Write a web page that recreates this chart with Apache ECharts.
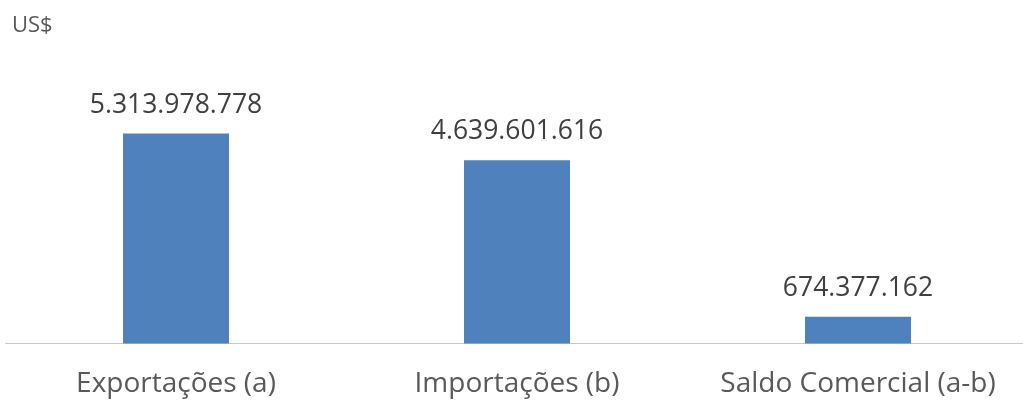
<!DOCTYPE html>
<html>
<head>
    <meta charset="utf-8">
    <title>Balança comercial</title>
    <script src="https://cdn.jsdelivr.net/npm/echarts@6/dist/echarts.min.js"></script>
</head>
<body style="margin:0;overflow:hidden">
<div id="main" style="width: 1034px;height:401px;"></div>
<script type="text/javascript">
    var categories = ['Exportações (a)', 'Importações (b)', 'Saldo Comercial (a-b)'];
    var values = [5313978778, 4639601616, 674377162];

    // 1234567 -> 1.234.567
    function fmt(v) {
        return String(v).replace(/\B(?=(\d{3})+(?!\d))/g, '.');
    }

    var myChart = echarts.init(document.getElementById('main'));
    var option = {
        animation: false,
        textStyle: { fontFamily: 'Open Sans' },
        graphic: [{
            type: 'text', left: 12, top: 15,
            style: { text: 'US$', fontSize: 22, fill: '#595959', fontFamily: 'Open Sans' }
        }],
        grid: { left: 5.5, right: 5.5, top: 106.4, bottom: 57.5 },
        xAxis: {
            type: 'category',
            data: categories,
            axisLine: { lineStyle: { color: '#c8c8c8', width: 1 } },
            axisTick: { show: false },
            axisLabel: { color: '#595959', fontSize: 28, margin: 27, interval: 0, hideOverlap: false }
        },
        yAxis: {
            type: 'value',
            min: 0,
            max: 6000000000,
            show: false,
            splitLine: { show: false }
        },
        series: [{
            type: 'bar',
            data: values,
            barWidth: 106,
            itemStyle: { color: '#4F81BD' },
            label: {
                show: true,
                position: 'top',
                distance: 15,
                color: '#404040',
                fontSize: 26.5,
                formatter: function (p) { return fmt(p.value); }
            }
        }]
    };
    myChart.setOption(option);
</script>
</body>
</html>
